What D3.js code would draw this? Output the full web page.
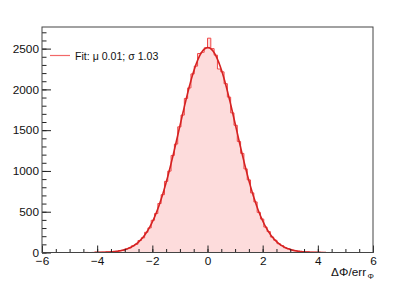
<!DOCTYPE html>
<html>
<head>
<meta charset="utf-8">
<script src="https://cdn.jsdelivr.net/npm/d3@7"></script>
<style>
  html, body { margin: 0; padding: 0; background: #fff; }
  svg { display: block; font-family: 'Liberation Sans', Arial, Helvetica, sans-serif; }
</style>
</head>
<body>
<div id="chart"></div>
<script>
// histogram range and contents (100 bins of 0.12)
const xRange = [-6, 6];
const counts = [
    0, 0, 0, 0, 0, 0, 0, 0, 0, 0,
    0, 0, 0, 1, 0, 1, 1, 2, 4, 5,
    6, 11, 13, 22, 28, 44, 55, 82, 101, 147,
    180, 248, 301, 395, 478, 601, 709, 872, 998, 1190,
    1330, 1541, 1685, 1889, 2018, 2190, 2285, 2440, 2455, 2510,
    2628, 2500, 2420, 2250, 2215, 2070, 1905, 1712, 1560, 1362,
    1215, 1025, 890, 731, 620, 492, 410, 312, 256, 190,
    150, 108, 85, 58, 46, 30, 23, 14, 11, 6,
    5, 3, 2, 1, 1, 0, 0, 0, 0, 0,
    0, 0, 0, 0, 0, 0, 0, 0, 0, 0
];

// gaussian fit result
const fitAmp = 2512;
const fitMean = 0.01;
const fitSigma = 1.03;
const fitRange = [-4.1, 4.3];

const xTicks = [-6, -4, -2, 0, 2, 4, 6];
const yTicks = [0, 500, 1000, 1500, 2000, 2500];
const yMax = 2765;
const legendText = 'Fit: μ 0.01; σ 1.03';

const svgWidth = 415;
const svgHeight = 281;
const frame = { left: 42, right: 373, top: 27, bottom: 252.5 };

const svg = d3
    .select('#chart')
    .append('svg')
    .attr('width', svgWidth)
    .attr('height', svgHeight);

const x = d3.scaleLinear().domain(xRange).range([frame.left, frame.right]);
const y = d3.scaleLinear().domain([0, yMax]).range([frame.bottom, frame.top]);

const binWidth = (xRange[1] - xRange[0]) / counts.length;

// step outline points
const steps = [];
counts.forEach((c, i) => {
    const x0 = xRange[0] + i * binWidth;
    steps.push([x0, c], [x0 + binWidth, c]);
});

svg.append('defs')
    .append('clipPath')
    .attr('id', 'clip')
    .append('rect')
    .attr('x', frame.left)
    .attr('y', frame.top)
    .attr('width', frame.right - frame.left)
    .attr('height', frame.bottom - frame.top);

const plot = svg.append('g').attr('clip-path', 'url(#clip)');

plot.append('path')
    .datum(steps)
    .attr('fill', '#fddcdc')
    .attr('stroke', 'none')
    .attr('d', d3.area().x(d => x(d[0])).y0(y(0)).y1(d => y(d[1])));

plot.append('path')
    .datum(steps)
    .attr('fill', 'none')
    .attr('stroke', '#f04848')
    .attr('stroke-width', 1)
    .attr('d', d3.line().x(d => x(d[0])).y(d => y(d[1])));

// fit curve
const gauss = v => fitAmp * Math.exp(-((v - fitMean) ** 2) / (2 * fitSigma * fitSigma));
const fitPts = d3.range(0, 401).map(k => {
    const v = fitRange[0] + (k / 400) * (fitRange[1] - fitRange[0]);
    return [v, gauss(v)];
});

plot.append('path')
    .datum(fitPts)
    .attr('fill', 'none')
    .attr('stroke', '#d42222')
    .attr('stroke-width', 1.6)
    .attr('d', d3.line().x(d => x(d[0])).y(d => y(d[1])));

// axes: ticks point into the frame
const fmt = d3.format('d');

const xAxisG = svg.append('g').attr('transform', `translate(0, ${frame.bottom})`);
xAxisG.call(d3.axisBottom(x).tickValues(d3.range(-6, 6.01, 0.5)).tickSize(-3.5).tickFormat(''));
xAxisG.append('g').call(d3.axisBottom(x).tickValues(xTicks).tickSize(-7).tickPadding(4).tickFormat(fmt));

const yAxisG = svg.append('g').attr('transform', `translate(${frame.left}, 0)`);
yAxisG.call(d3.axisLeft(y).tickValues(d3.range(0, yMax, 100)).tickSize(-4.5).tickFormat(''));
yAxisG.append('g').call(d3.axisLeft(y).tickValues(yTicks).tickSize(-9).tickPadding(3).tickFormat(fmt));

svg.selectAll('.domain').remove();
svg.selectAll('.tick line').attr('stroke', '#222');
svg.selectAll('.tick text')
    .attr('fill', '#111')
    .style('font-size', '11.8px')
    .style('font-family', "'Liberation Sans', Arial, sans-serif");

// frame
svg.append('rect')
    .attr('x', frame.left)
    .attr('y', frame.top)
    .attr('width', frame.right - frame.left)
    .attr('height', frame.bottom - frame.top)
    .attr('fill', 'none')
    .attr('stroke', '#444')
    .attr('stroke-width', 1);

// x title
const title = svg.append('text')
    .attr('x', 374)
    .attr('y', 276)
    .attr('text-anchor', 'end')
    .style('font-size', '11.8px')
    .attr('fill', '#111');
title.append('tspan').text('ΔΦ/err');
title.append('tspan')
    .attr('dy', 2.5)
    .attr('dx', 1.5)
    .style('font-size', '8px')
    .text('Φ');

// legend
const legend = svg.append('g');
legend.append('line')
    .attr('x1', 50)
    .attr('x2', 70)
    .attr('y1', 55.5)
    .attr('y2', 55.5)
    .attr('stroke', '#f26868')
    .attr('stroke-width', 1.2);
legend.append('text')
    .attr('x', 75)
    .attr('y', 59.5)
    .style('font-size', '10.6px')
    .attr('fill', '#111')
    .text(legendText);
</script>
</body>
</html>
